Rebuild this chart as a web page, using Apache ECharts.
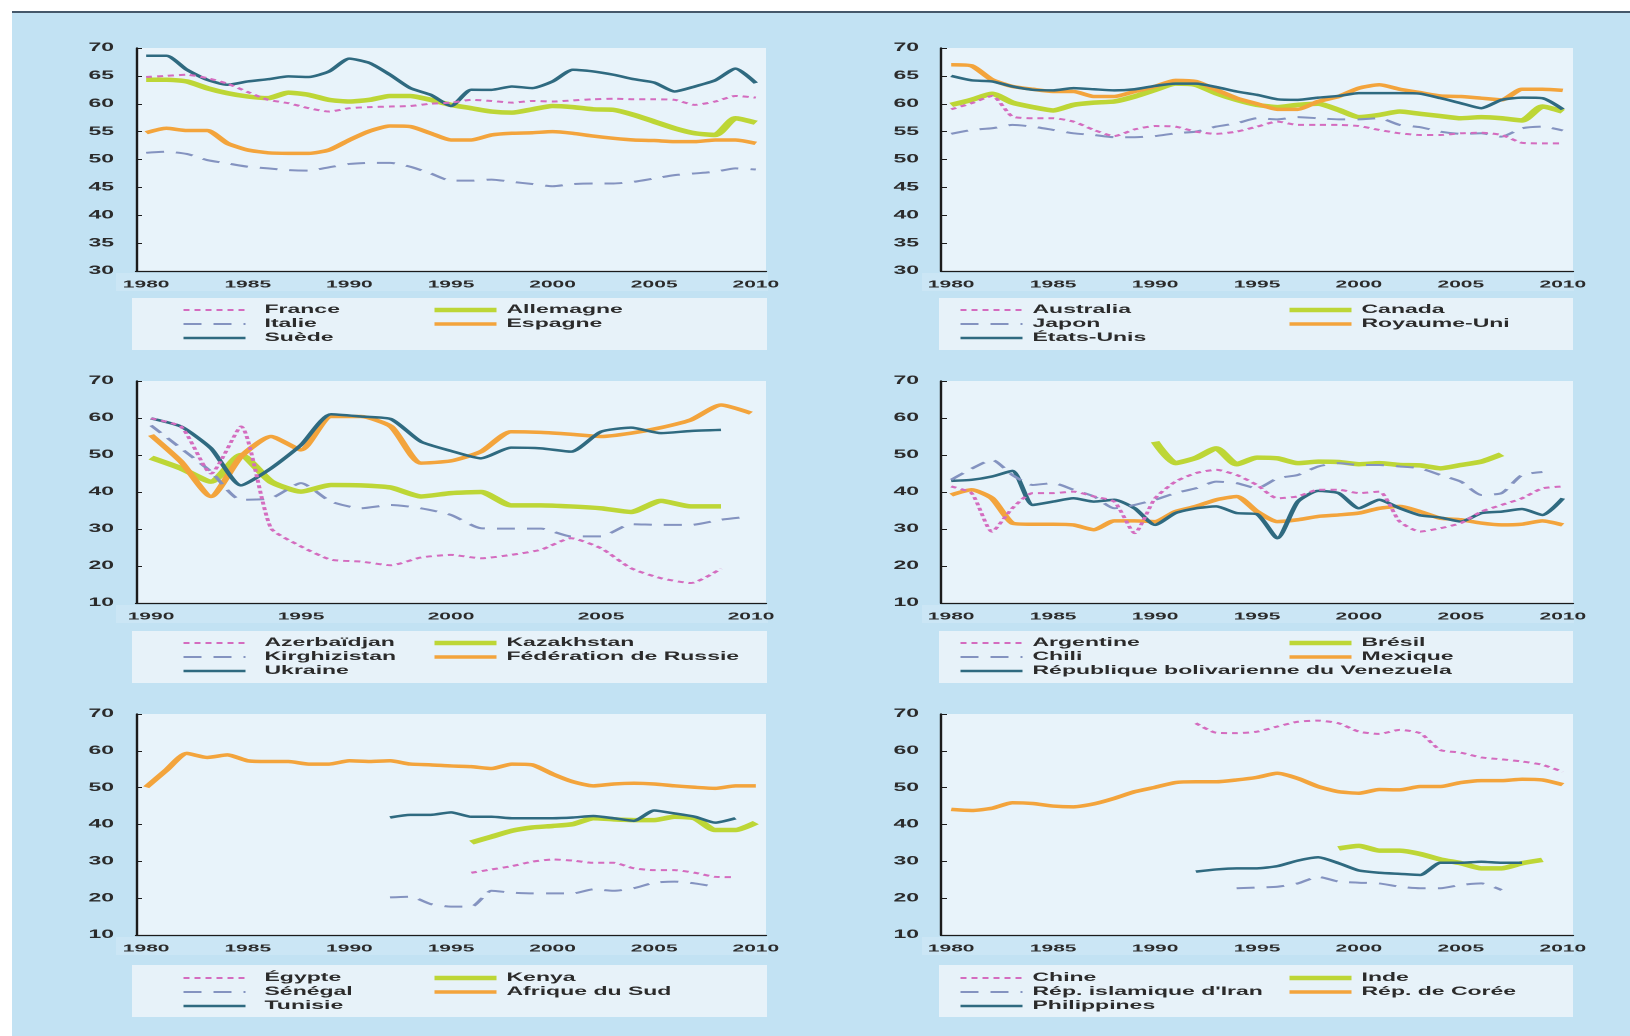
<!DOCTYPE html>
<html>
<head>
<meta charset="utf-8">
<script src="https://cdn.jsdelivr.net/npm/echarts@6/dist/echarts.min.js"></script>
<style>
  html, body { margin: 0; padding: 0; background: #fff; overflow: hidden; }
  /* the source picture is stretched 2x horizontally, so draw at half width and stretch */
  #main { width: 815px; height: 1036px; transform: scaleX(2); transform-origin: 0 0; }
</style>
</head>
<body>
<div id="main"></div>
<script>
// years
const years80 = ['1980','1981','1982','1983','1984','1985','1986','1987','1988','1989','1990',
  '1991','1992','1993','1994','1995','1996','1997','1998','1999','2000',
  '2001','2002','2003','2004','2005','2006','2007','2008','2009','2010'];
const years90 = ['1990','1991','1992','1993','1994','1995','1996','1997','1998','1999','2000',
  '2001','2002','2003','2004','2005','2006','2007','2008','2009','2010'];

// panel 1
const france = [64.8, 65.0, 65.2, 64.6, 63.6, 62.1, 60.7, 60.1, 59.2, 58.6, 59.2, 59.4, 59.5, 59.6, 60.0, 60.2, 60.7, 60.5, 60.2, 60.5, 60.4, 60.6, 60.8, 60.9, 60.8, 60.8, 60.7, 59.8, 60.4, 61.4, 61.1];
const allemagne = [64.3, 64.3, 64.0, 62.8, 61.9, 61.3, 61.0, 62.0, 61.6, 60.7, 60.4, 60.7, 61.4, 61.4, 60.7, 59.8, 59.2, 58.6, 58.4, 59.0, 59.6, 59.4, 59.0, 58.9, 58.0, 56.8, 55.6, 54.7, 54.4, 57.4, 56.6];
const italie = [51.2, 51.4, 51.0, 49.9, 49.3, 48.7, 48.4, 48.1, 48.0, 48.6, 49.2, 49.4, 49.4, 48.7, 47.5, 46.2, 46.2, 46.4, 46.0, 45.6, 45.2, 45.6, 45.7, 45.7, 46.0, 46.6, 47.2, 47.5, 47.8, 48.4, 48.2];
const espagne = [54.8, 55.6, 55.2, 55.2, 52.9, 51.7, 51.2, 51.1, 51.1, 51.7, 53.5, 55.1, 56.0, 55.9, 54.7, 53.5, 53.5, 54.4, 54.7, 54.8, 55.0, 54.7, 54.2, 53.8, 53.5, 53.4, 53.2, 53.2, 53.5, 53.5, 52.9];
const suede = [68.6, 68.6, 66.1, 64.3, 63.4, 64.0, 64.4, 64.9, 64.8, 65.8, 68.1, 67.3, 65.2, 62.8, 61.6, 59.6, 62.5, 62.5, 63.1, 62.8, 64.0, 66.1, 65.8, 65.2, 64.4, 63.8, 62.2, 63.1, 64.2, 66.3, 63.7];

// panel 2
const australia = [59.0, 60.1, 61.4, 57.7, 57.4, 57.4, 56.8, 55.3, 54.2, 55.4, 56.0, 55.9, 55.0, 54.6, 55.0, 55.9, 56.8, 56.2, 56.2, 56.2, 56.0, 55.3, 54.7, 54.4, 54.4, 54.7, 54.8, 54.4, 53.0, 52.9, 52.9];
const japon = [54.6, 55.3, 55.6, 56.2, 55.9, 55.3, 54.7, 54.4, 54.0, 54.0, 54.2, 54.7, 55.0, 55.9, 56.5, 57.4, 57.2, 57.6, 57.4, 57.2, 57.2, 57.4, 56.2, 55.8, 55.0, 54.6, 54.7, 54.1, 55.6, 55.9, 55.2];
const etatsUnis = [65.0, 64.2, 64.0, 63.1, 62.5, 62.4, 62.8, 62.6, 62.4, 62.6, 63.2, 63.6, 63.6, 63.0, 62.2, 61.6, 60.8, 60.7, 61.1, 61.4, 61.9, 61.9, 61.9, 61.8, 61.0, 60.1, 59.2, 60.7, 61.1, 61.0, 59.0];
const canada = [59.8, 60.7, 61.8, 60.2, 59.4, 58.8, 59.8, 60.2, 60.4, 61.3, 62.5, 63.6, 63.4, 61.9, 60.7, 59.8, 59.4, 59.8, 60.0, 58.9, 57.6, 58.0, 58.6, 58.2, 57.8, 57.4, 57.6, 57.4, 57.0, 59.5, 58.6];
const royaumeUni = [67.0, 66.8, 64.3, 63.1, 62.6, 62.2, 62.2, 61.3, 61.3, 62.2, 63.1, 64.2, 64.0, 62.5, 61.0, 60.0, 59.0, 59.0, 60.4, 61.3, 62.8, 63.4, 62.6, 62.0, 61.4, 61.3, 61.0, 60.7, 62.6, 62.6, 62.4];

// panel 3 (1990-2010)
const azerbaidjan = [59.9, 57.7, 45.0, 57.7, 30.2, 25.3, 21.7, 21.2, 20.2, 22.3, 23.0, 22.1, 23.0, 24.4, 27.5, 24.8, 19.4, 16.7, 15.4, 19.3, null];
const kirghizistan = [58.0, 51.8, 45.5, 37.9, 38.3, 42.4, 37.4, 35.6, 36.5, 35.6, 33.8, 30.2, 30.1, 30.1, 28.0, 28.0, 31.3, 31.1, 31.1, 32.5, 33.4];
const kazakhstan = [49.3, 46.4, 42.8, 50.0, 42.8, 40.1, 41.9, 41.8, 41.2, 38.8, 39.7, 40.0, 36.4, 36.4, 36.1, 35.6, 34.6, 37.6, 36.1, 36.1, null];
const russie = [55.4, 48.2, 38.8, 49.6, 55.0, 51.4, 60.4, 60.4, 57.7, 47.8, 48.4, 50.9, 56.3, 56.1, 55.6, 55.0, 55.9, 57.4, 59.5, 63.5, 61.3];
const ukraine = [59.9, 57.7, 51.8, 41.8, 46.4, 52.7, 61.0, 60.4, 59.7, 53.6, 51.1, 49.1, 52.0, 51.8, 50.9, 56.3, 57.4, 55.9, 56.5, 56.8, null];

// panel 4
const argentine = [41.5, 39.7, 29.3, 35.6, 39.7, 39.7, 40.1, 38.8, 37.4, 28.9, 38.3, 42.8, 45.1, 46.0, 44.6, 41.9, 38.3, 38.8, 40.6, 40.6, 39.7, 40.1, 32.0, 29.3, 30.2, 31.6, 34.7, 36.5, 38.3, 41.0, 41.5];
const bresil = [null, null, null, null, null, null, null, null, null, null, 53.6, 47.8, 49.2, 51.8, 47.5, 49.3, 49.1, 47.8, 48.2, 48.1, 47.5, 47.8, 47.3, 47.2, 46.4, 47.3, 48.2, 50.2, null, null, null];
const chili = [43.3, 46.3, 48.7, 44.6, 41.9, 42.4, 40.6, 38.8, 35.6, 36.5, 37.9, 39.7, 41.0, 42.8, 42.4, 41.0, 43.7, 44.6, 46.9, 47.8, 47.3, 47.3, 46.9, 46.4, 44.6, 42.8, 39.2, 39.7, 44.6, 45.4, null];
const mexique = [39.2, 40.6, 38.3, 31.6, 31.3, 31.3, 31.1, 29.8, 32.2, 32.2, 32.0, 34.7, 36.1, 37.9, 38.8, 34.7, 32.0, 32.5, 33.4, 33.8, 34.3, 35.6, 36.1, 34.7, 32.9, 32.5, 31.6, 31.1, 31.3, 32.2, 31.1];
const venezuela = [43.0, 43.3, 44.2, 45.7, 36.5, 37.4, 38.3, 37.4, 37.9, 35.6, 31.1, 34.3, 35.6, 36.1, 34.3, 34.0, 27.5, 37.4, 40.3, 39.7, 35.6, 37.9, 35.6, 33.7, 33.1, 32.0, 34.3, 34.7, 35.4, 33.8, 38.3];

// panel 5
const egypte = [null, null, null, null, null, null, null, null, null, null, null, null, null, null, null, null, 26.9, 27.8, 28.7, 29.9, 30.5, 30.2, 29.6, 29.6, 28.1, 27.6, 27.6, 26.9, 25.8, 25.7, null];
const senegal = [null, null, null, null, null, null, null, null, null, null, null, null, 20.2, 20.4, 18.4, 17.7, 17.7, 22.0, 21.5, 21.3, 21.3, 21.3, 22.4, 22.0, 22.7, 24.2, 24.5, 24.0, 23.1, null, null];
const tunisie = [null, null, null, null, null, null, null, null, null, null, null, null, 41.9, 42.6, 42.6, 43.3, 42.1, 42.1, 41.7, 41.7, 41.7, 41.9, 42.3, 41.7, 41.0, 43.8, 43.0, 42.1, 40.5, 41.7, null];
const kenya = [null, null, null, null, null, null, null, null, null, null, null, null, null, null, null, null, 35.1, 36.7, 38.3, 39.2, 39.6, 40.1, 41.7, 41.4, 41.2, 41.2, 42.1, 41.7, 38.5, 38.5, 40.5];
const afriqueSud = [50.1, 54.8, 59.3, 58.2, 58.9, 57.3, 57.1, 57.1, 56.4, 56.4, 57.3, 57.1, 57.3, 56.4, 56.2, 55.9, 55.7, 55.2, 56.4, 56.2, 53.7, 51.6, 50.5, 51.0, 51.2, 51.0, 50.5, 50.1, 49.8, 50.5, 50.5];

// panel 6
const chine = [null, null, null, null, null, null, null, null, null, null, null, null, 67.5, 64.9, 64.8, 65.2, 66.6, 67.9, 68.2, 67.5, 65.2, 64.6, 65.7, 64.8, 60.2, 59.5, 58.2, 57.7, 57.1, 56.2, 54.3];
const iran = [null, null, null, null, null, null, null, null, null, null, null, null, null, null, 22.7, 22.9, 23.1, 24.0, 25.8, 24.5, 24.2, 24.0, 23.1, 22.7, 22.7, 23.6, 24.0, 22.2, null, null, null];
const philippines = [null, null, null, null, null, null, null, null, null, null, null, null, 27.2, 27.8, 28.1, 28.1, 28.7, 30.2, 31.1, 29.5, 27.5, 26.9, 26.6, 26.3, 29.6, 29.6, 29.9, 29.6, 29.6, null, null];
const inde = [null, null, null, null, null, null, null, null, null, null, null, null, null, null, null, null, null, null, null, 33.5, 34.2, 32.9, 32.9, 32.0, 30.5, 29.5, 28.1, 28.1, 29.5, 30.4, null];
const coree = [44.1, 43.8, 44.4, 45.9, 45.7, 45.0, 44.8, 45.6, 47.1, 48.9, 50.1, 51.4, 51.6, 51.6, 52.1, 52.8, 53.9, 52.5, 50.3, 48.9, 48.5, 49.5, 49.4, 50.3, 50.3, 51.4, 51.9, 51.9, 52.3, 52.1, 50.8];

const FONT = '"Liberation Sans", Arial, sans-serif';
const TXT = '#2b2b2b';
const AX = '#1b1b1b';

const styles = {
  dotted: { color: '#d46cbf', width: 2, type: [3, 2.5] },
  dashed: { color: '#8493c0', width: 2, type: [9, 6] },
  teal: { color: '#2f6a80', width: 2.5, type: 'solid' },
  green: { color: '#bdd636', width: 4.5, type: 'solid' },
  orange: { color: '#f3a43c', width: 3.5, type: 'solid' }
};

// panel layout: [left, top, height, years, yMin, yMax, yStep]
const panels = [
  [68, 48, 223, years80, 30, 70, 5],
  [470.5, 48, 223, years80, 30, 70, 5],
  [68, 381, 222, years90, 10, 70, 10],
  [470.5, 381, 222, years80, 10, 70, 10],
  [68, 714, 221, years80, 10, 70, 10],
  [470.5, 714, 221, years80, 10, 70, 10]
];

// series per panel: [name, data, style]; col1 = first three, col2 = last two
const panelSeries = [
  [['France', france, 'dotted'], ['Italie', italie, 'dashed'], ['Suède', suede, 'teal'],
   ['Allemagne', allemagne, 'green'], ['Espagne', espagne, 'orange']],
  [['Australia', australia, 'dotted'], ['Japon', japon, 'dashed'], ['États-Unis', etatsUnis, 'teal'],
   ['Canada', canada, 'green'], ['Royaume-Uni', royaumeUni, 'orange']],
  [['Azerbaïdjan', azerbaidjan, 'dotted'], ['Kirghizistan', kirghizistan, 'dashed'], ['Ukraine', ukraine, 'teal'],
   ['Kazakhstan', kazakhstan, 'green'], ['Fédération de Russie', russie, 'orange']],
  [['Argentine', argentine, 'dotted'], ['Chili', chili, 'dashed'], ['République bolivarienne du Venezuela', venezuela, 'teal'],
   ['Brésil', bresil, 'green'], ['Mexique', mexique, 'orange']],
  [['Égypte', egypte, 'dotted'], ['Sénégal', senegal, 'dashed'], ['Tunisie', tunisie, 'teal'],
   ['Kenya', kenya, 'green'], ['Afrique du Sud', afriqueSud, 'orange']],
  [['Chine', chine, 'dotted'], ['Rép. islamique d\'Iran', iran, 'dashed'], ['Philippines', philippines, 'teal'],
   ['Inde', inde, 'green'], ['Rép. de Corée', coree, 'orange']]
];

const legendTops = [303, 636, 971];
const boxTops = [298, 631, 965];

const chart = echarts.init(document.getElementById('main'), null, { devicePixelRatio: 2 });

const grid = [], xAxis = [], yAxis = [], series = [], legend = [];
const graphic = [
  { type: 'rect', silent: true, z: -10, shape: { x: 6, y: 13, width: 809, height: 1023 }, style: { fill: '#c2e2f3' } },
  { type: 'line', silent: true, z: -9, shape: { x1: 6, y1: 12, x2: 815, y2: 12 }, style: { stroke: '#45586a', lineWidth: 2 } }
];

panels.forEach((p, i) => {
  const [left, top, height, cats, yMin, yMax, yStep] = p;
  const isLeft = i % 2 === 0;
  const row = Math.floor(i / 2);
  const w = isLeft ? 315 : 316;
  grid.push({ left: left, top: top, width: w, height: height, show: true,
    backgroundColor: '#e8f3fa', borderWidth: 0 });
  xAxis.push({
    type: 'category', gridIndex: i, data: cats, boundaryGap: true,
    axisLine: { lineStyle: { color: AX, width: 1.2 } },
    axisTick: { inside: true, length: 3, interval: 0, lineStyle: { color: AX, width: 1 } },
    axisLabel: { interval: 4, margin: 8, fontFamily: FONT, fontSize: 10.5, fontWeight: 'bold', color: TXT },
    splitLine: { show: false }
  });
  yAxis.push({
    type: 'value', gridIndex: i, min: yMin, max: yMax, interval: yStep,
    axisLine: { show: true, lineStyle: { color: AX, width: 1.2 } },
    axisTick: { show: true, inside: true, length: 3, lineStyle: { color: AX, width: 1 } },
    axisLabel: { margin: 11, fontFamily: FONT, fontSize: 11.5, fontWeight: 'bold', color: TXT },
    splitLine: { show: false }
  });
  // draw order: thick lines first, dotted and dashed on top
  const order = [3, 4, 2, 1, 0];
  order.forEach(k => {
    const [name, data, st] = panelSeries[i][k];
    const s = styles[st];
    series.push({
      type: 'line', name: name, xAxisIndex: i, yAxisIndex: i, data: data,
      symbol: 'none', smooth: 0.2, connectNulls: false,
      color: s.color,
      lineStyle: { color: s.color, width: s.width, type: s.type, cap: 'butt', join: 'round' },
      emphasis: { disabled: true }
    });
  });
  // band behind the year labels and the legend box
  graphic.push({ type: 'rect', silent: true, z: -6,
    shape: { x: isLeft ? 58 : 461, y: top + height + 2, width: 326, height: 18 },
    style: { fill: '#cbe6f5' } });
  graphic.push({ type: 'rect', silent: true, z: -5,
    shape: { x: isLeft ? 66 : 469.5, y: boxTops[row], width: isLeft ? 317.5 : 317, height: 52 },
    style: { fill: '#e7f2f9' } });
  const names = panelSeries[i].map(d => d[0]);
  const common = {
    orient: 'vertical', align: 'left', top: legendTops[row], padding: 0,
    itemWidth: 31, itemHeight: 14, itemGap: 0, selectedMode: false,
    itemStyle: { opacity: 0 },
    lineStyle: { width: 'inherit' },
    textStyle: { fontFamily: FONT, fontSize: 11.5, fontWeight: 'bold', color: TXT, lineHeight: 14 }
  };
  legend.push(Object.assign({}, common, {
    left: isLeft ? 90.5 : 479, data: names.slice(0, 3),
    textStyle: Object.assign({}, common.textStyle, { padding: [0, 0, 0, isLeft ? 4.5 : 0] })
  }));
  legend.push(Object.assign({}, common, {
    left: isLeft ? 215 : 642.5, data: names.slice(3)
  }));
});

chart.setOption({
  animation: false,
  backgroundColor: '#ffffff',
  graphic: graphic,
  grid: grid,
  xAxis: xAxis,
  yAxis: yAxis,
  legend: legend,
  series: series
});
</script>
</body>
</html>
